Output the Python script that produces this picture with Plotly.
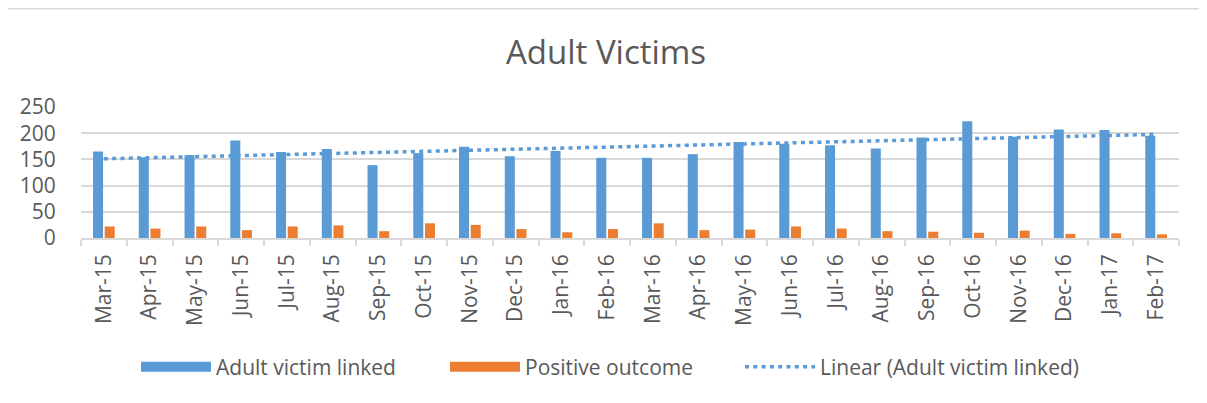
import numpy as np
import plotly.graph_objects as go

months = ["Mar-15", "Apr-15", "May-15", "Jun-15", "Jul-15", "Aug-15", "Sep-15", "Oct-15",
          "Nov-15", "Dec-15", "Jan-16", "Feb-16", "Mar-16", "Apr-16", "May-16", "Jun-16",
          "Jul-16", "Aug-16", "Sep-16", "Oct-16", "Nov-16", "Dec-16", "Jan-17", "Feb-17"]
adult_victim_linked = [165, 154, 158, 186, 164, 170, 139, 162, 174, 156, 166, 153,
                       153, 160, 183, 180, 177, 171, 192, 223, 193, 207, 206, 195]
positive_outcome = [22, 18, 22, 15, 22, 24, 13, 28, 25, 17, 11, 17,
                    28, 15, 16, 22, 18, 13, 12, 10, 14, 8, 9, 7]
y_ticks = [0, 50, 100, 150, 200, 250]

BLUE = "#5b9bd5"
ORANGE = "#ed7d31"
TEXT = "#595959"
GRID = "#d9d9d9"
FONT = "Open Sans"

idx = np.arange(len(adult_victim_linked))
slope, intercept = np.polyfit(idx, adult_victim_linked, 1)
trend = slope * idx + intercept

DOT = "4px,4.3px"

fig = go.Figure()
fig.add_trace(go.Bar(x=months, y=adult_victim_linked, marker_color=BLUE,
                     marker_line_width=0, showlegend=False, name="Adult victim linked"))
fig.add_trace(go.Bar(x=months, y=positive_outcome, marker_color=ORANGE,
                     marker_line_width=0, showlegend=False, name="Positive outcome"))
fig.add_trace(go.Scatter(x=months, y=trend, mode="lines", showlegend=False,
                         line=dict(color=BLUE, width=3.5, dash=DOT),
                         name="Linear (Adult victim linked)"))
# legend entries (each in its own legend so they can be spaced like the original)
fig.add_trace(go.Scatter(x=[None], y=[None], mode="lines", name="Adult victim linked",
                         line=dict(color=BLUE, width=13), legend="legend"))
fig.add_trace(go.Scatter(x=[None], y=[None], mode="lines", name="Positive outcome",
                         line=dict(color=ORANGE, width=13), legend="legend2"))
fig.add_trace(go.Scatter(x=[None], y=[None], mode="lines", name="Linear (Adult victim linked)",
                         line=dict(color=BLUE, width=3.5, dash=DOT), legend="legend3"))

# page body has an 8px margin; figure coordinates = screen coordinates - 8
OFF = 8
W, H = 1207 - 2 * OFF, 403 - 2 * OFF
ml, mr, mt, mb = 81 - OFF, W - (1179 - OFF), 107 - OFF, H - (238 - OFF)
pw, ph = W - ml - mr, H - mt - mb

def py(p):
    return (H - mb - p) / ph

border_y = py(0.75)

LEG_Y = (H - (367 - OFF)) / H
LEG_PAD = 5

def legend_at(screen_x):
    return dict(orientation="h", xref="container", x=(screen_x - OFF - LEG_PAD) / W,
                xanchor="left", yref="container", y=LEG_Y, yanchor="middle",
                font=dict(size=21, color=TEXT, family=FONT),
                itemwidth=70, tracegroupgap=0, itemsizing="trace",
                bgcolor="rgba(0,0,0,0)")

fig.update_layout(
    width=W, height=H,
    margin=dict(l=ml, r=mr, t=mt, b=mb, autoexpand=False),
    paper_bgcolor="white", plot_bgcolor="white",
    font=dict(family=FONT, color=TEXT),
    title=dict(text="Adult Victims", x=(606 - OFF) / W, xref="container", xanchor="center",
               y=(H - (52 - OFF)) / H, yref="container", yanchor="middle",
               font=dict(size=33, color=TEXT, family=FONT)),
    barmode="group", bargap=0.49, bargroupgap=0.14,
    legend=legend_at(141),
    legend2=legend_at(450),
    legend3=legend_at(745),
    xaxis=dict(type="category", tickangle=-90, tickfont=dict(size=21, color=TEXT),
               showline=True, linecolor=GRID, linewidth=1.5, ticks="outside",
               tickson="boundaries", ticklen=6, tickcolor=GRID, tickwidth=1.5,
               showgrid=False, zeroline=False, ticklabelstandoff=6),
    yaxis=dict(range=[0, 250], tickvals=y_ticks, tickfont=dict(size=21, color=TEXT),
               showgrid=True, gridcolor=GRID, gridwidth=1.5, zeroline=False,
               showline=False, ticks="outside", ticklen=20, tickcolor="rgba(0,0,0,0)"),
    shapes=[
        dict(type="line", xref="paper", yref="paper", x0=-1, x1=2,
             y0=border_y, y1=border_y, line=dict(color=GRID, width=1.5)),
    ],
)

fig.write_html("out.html")
